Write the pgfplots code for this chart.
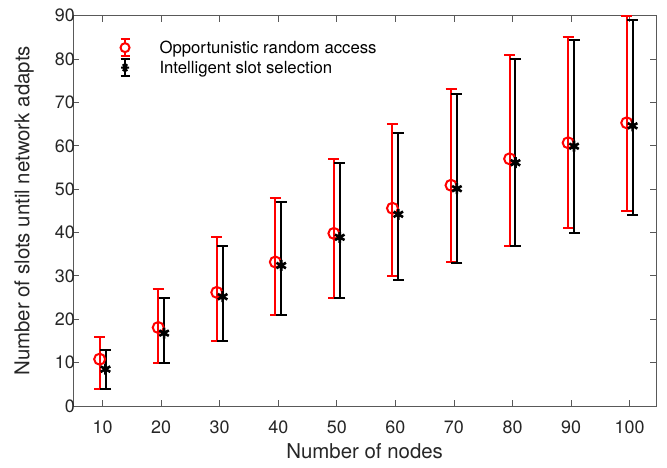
\documentclass[border=0pt]{standalone}
\usepackage{fontspec}
\setmainfont{TeX Gyre Heros}
\usepackage{pgfplots}
\usepackage{pgfplotstable}
\pgfplotsset{compat=1.18}

\pgfplotstableread{
x y ep em
9.5 10.8 5.2 6.8
19.5 18.1 8.9 8.1
29.5 26.2 12.8 11.2
39.5 33.2 14.8 12.2
49.5 39.8 17.2 14.8
59.5 45.6 19.4 15.6
69.5 50.9 22.1 17.7
79.5 57.0 24.0 20.0
89.5 60.7 24.3 19.7
99.5 65.3 24.7 20.3
}\redtab

\pgfplotstableread{
x y ep em
10.5 8.5 4.5 4.5
20.5 16.8 8.2 6.8
30.5 25.2 11.8 10.2
40.5 32.4 14.6 11.4
50.5 38.9 17.1 13.9
60.5 44.2 18.8 15.2
70.5 50.1 21.9 17.1
80.5 56.1 23.9 19.1
90.5 59.9 24.6 19.9
100.5 64.6 24.4 20.6
}\blacktab

\definecolor{axisgray}{gray}{0.35}

\begin{document}
\begin{tikzpicture}
\path[use as bounding box] (-73.3bp,-62bp) rectangle (593.7bp,406bp);
\begin{axis}[
  at={(0,0)}, anchor=south west,
  scale only axis,
  width=582.7bp, height=390.3bp,
  xmin=5, xmax=104.5,
  ymin=0, ymax=90,
  xtick={10,20,...,100},
  ytick={0,10,...,90},
  tick align=inside,
  major tick length=6bp,
  axis line style={axisgray, line width=0.8bp},
  every tick/.style={axisgray, line width=0.8bp},
  /pgf/number format/assume math mode=true,
  tick label style={font=\fontsize{18}{18}\selectfont, text=black!85},
  xticklabel style={yshift=-11bp},
  yticklabel style={xshift=5bp},
  xlabel={Number of nodes},
  ylabel={Number of slots until network adapts},
  label style={font=\fontsize{20.5}{22}\selectfont, text=black!85},
  xlabel style={at={(axis description cs:0.5,0)}, anchor=north, yshift=-34bp},
  ylabel style={at={(axis description cs:0,0.5)}, anchor=south, yshift=36bp},
  clip=false,
  legend cell align=left,
  legend style={draw=none, fill=none, at={(0.079,0.943)}, anchor=north west,
    font=\fontsize{16.8}{18}\selectfont, row sep=1bp, inner sep=0pt,
    /tikz/every odd column/.append style={column sep=27bp}},
]
\addplot[forget plot, red, only marks, mark=o, mark size=5.5bp, line width=2bp,
  error bars/.cd, y dir=both, y explicit,
  error bar style={red, line width=2bp},
  error mark options={red, line width=2bp, mark size=5.5bp, rotate=90}]
  table[x=x, y=y, y error plus=ep, y error minus=em] {\redtab};
\addplot[forget plot, black, only marks, mark=asterisk, mark size=5.5bp, line width=2.6bp,
  error bars/.cd, y dir=both, y explicit,
  error bar style={black, line width=2bp},
  error mark options={black, line width=2bp, mark size=5.5bp, rotate=90}]
  table[x=x, y=y, y error plus=ep, y error minus=em] {\blacktab};
\addlegendimage{red, line width=2bp,
  legend image code/.code={
    \draw[red, line width=2bp] (0bp,-8.5bp) -- (0bp,8.5bp);
    \draw[red, line width=2bp] (-4.5bp,-8.5bp) -- (4.5bp,-8.5bp) (-4.5bp,8.5bp) -- (4.5bp,8.5bp);
    \draw[red, line width=2bp, fill=white] (0bp,0bp) circle (4.5bp);
  }}
\addlegendentry{Opportunistic random access}
\addlegendimage{black, line width=2bp,
  legend image code/.code={
    \draw[black, line width=2bp] (0bp,-8.5bp) -- (0bp,8.5bp);
    \draw[black, line width=2bp] (-4.5bp,-8.5bp) -- (4.5bp,-8.5bp) (-4.5bp,8.5bp) -- (4.5bp,8.5bp);
    \draw[black, line width=2.2bp] (-4bp,0bp) -- (4bp,0bp) (-2bp,-3.5bp) -- (2bp,3.5bp) (-2bp,3.5bp) -- (2bp,-3.5bp);
  }}
\addlegendentry{Intelligent slot selection}
\end{axis}
\end{tikzpicture}
\end{document}
